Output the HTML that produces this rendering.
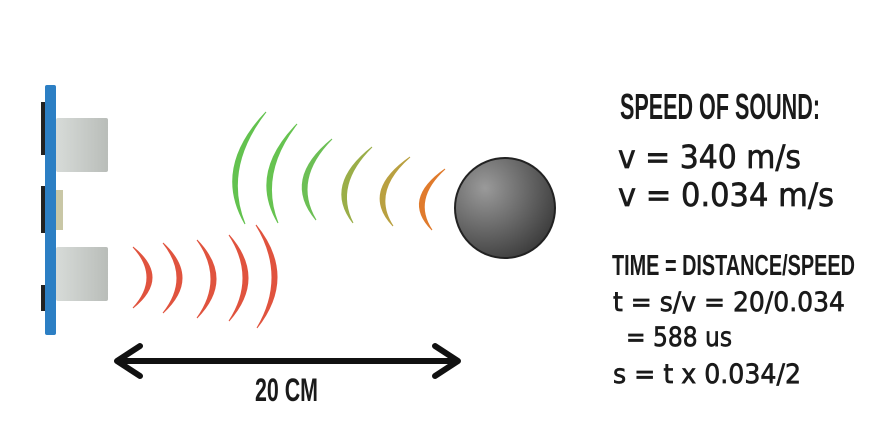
<!DOCTYPE html>
<html><head><meta charset="utf-8"><style>
html,body{margin:0;padding:0;background:#fff;}
svg{display:block;}
.h{font-family:"Liberation Sans Narrow","Liberation Sans",sans-serif;font-weight:bold;fill:#1a1a1a;}
.f{font-family:"DejaVu Sans","Liberation Sans",sans-serif;fill:#1a1a1a;stroke:#1a1a1a;stroke-width:0.7;}
</style></head><body>
<svg id="scene" width="888" height="446" viewBox="0 0 888 446">
<defs>
<radialGradient id="ball" cx="0.3" cy="0.3" r="0.8"><stop offset="0" stop-color="#9a9a9a"/><stop offset="1" stop-color="#3a3a3a"/></radialGradient>
<linearGradient id="box" x1="0" x2="1"><stop offset="0" stop-color="#d7dbd8"/><stop offset="1" stop-color="#b9bdb9"/></linearGradient>
</defs>
<g>
<rect x="41" y="102" width="5" height="53" fill="#222"/>
<rect x="41" y="186" width="5" height="47" fill="#222"/>
<rect x="41" y="285" width="5" height="26" fill="#222"/>
<rect x="45" y="85" width="11" height="250" rx="2" fill="#2c7fc4"/>
<rect x="56" y="118" width="52" height="54" rx="2" fill="url(#box)"/>
<rect x="56" y="247" width="52" height="54" rx="2" fill="url(#box)"/>
<rect x="56" y="190" width="7" height="40" fill="#c9c7a6"/>
</g>
<g id="waves"></g>
<circle cx="505" cy="208" r="50" fill="url(#ball)" stroke="#222" stroke-width="2"/>
<g>
<line x1="118" y1="361" x2="457" y2="361" stroke="#111" stroke-width="6"/>
<polyline points="140,346 117,361 140,376" fill="none" stroke="#111" stroke-width="6" stroke-linecap="round" stroke-linejoin="round"/>
<polyline points="435,346 458,361 435,376" fill="none" stroke="#111" stroke-width="6" stroke-linecap="round" stroke-linejoin="round"/>
</g>
<text class="h" x="255" y="401" font-size="32" textLength="63" lengthAdjust="spacingAndGlyphs">20 CM</text>
<text class="h" x="620" y="119" font-size="31" textLength="200" lengthAdjust="spacingAndGlyphs" transform="translate(0,-19) scale(1,1.16)">SPEED OF SOUND:</text>
<text class="f" x="618" y="168" font-size="32" textLength="183" lengthAdjust="spacingAndGlyphs">v = 340 m/s</text>
<text class="f" x="618" y="206" font-size="32" textLength="216" lengthAdjust="spacingAndGlyphs">v = 0.034 m/s</text>
<text class="h" x="612" y="275" font-size="25" textLength="243" lengthAdjust="spacingAndGlyphs" transform="translate(0,-41) scale(1,1.15)">TIME = DISTANCE/SPEED</text>
<text class="f" x="613" y="311" font-size="27" textLength="232" lengthAdjust="spacingAndGlyphs">t = s/v = 20/0.034</text>
<text class="f" x="626" y="346" font-size="27" textLength="106" lengthAdjust="spacingAndGlyphs">= 588 us</text>
<text class="f" x="613" y="383" font-size="27" textLength="188" lengthAdjust="spacingAndGlyphs">s = t x 0.034/2</text>
</svg>
<script>
// wave geometry: [topX, topY, bottomX, bottomY, extremeX]
const redTop=[[133,247],[163,243],[197,240],[229,235],[256,225]];
const redBottom=[[133,308],[163,313],[197,318],[229,321],[257,328]];
const redExtreme=[152,182,216,248,277];
const echoTop=[[266,112],[297,124],[332,139],[372,147],[410,157],[445,169]];
const echoBottom=[[245,224],[278,223],[316,220],[353,223],[393,226],[432,230]];
const echoExtreme=[234,268,303,343,381,420];
const echoColors=["#63c24f","#66c350","#6cbf55","#9aae48","#b9a040","#e07a2c"];
const NS="http://www.w3.org/2000/svg";
const g=document.getElementById('waves');
function crescent(t,b,e,w,color,dir){
  const my=(t[1]+b[1])/2, mx=(t[0]+b[0])/2;
  const co=2*e-mx, ci=2*(e-dir*w)-mx;
  const p=document.createElementNS(NS,'path');
  p.setAttribute('d',`M${t[0]},${t[1]} Q${co},${my} ${b[0]},${b[1]} Q${ci},${my} ${t[0]},${t[1]} Z`);
  p.setAttribute('fill',color);
  p.setAttribute('stroke',color);
  p.setAttribute('stroke-width','1');
  return p;
}
redTop.forEach((t,i)=>{
  const p=crescent(t,redBottom[i],redExtreme[i],5,"#e0533e",1);
  
  
  g.appendChild(p);
});
echoTop.forEach((t,i)=>{
  const p=crescent(t,echoBottom[i],echoExtreme[i],5,echoColors[i],-1);
  
  
  g.appendChild(p);
});
</script>
</body></html>
